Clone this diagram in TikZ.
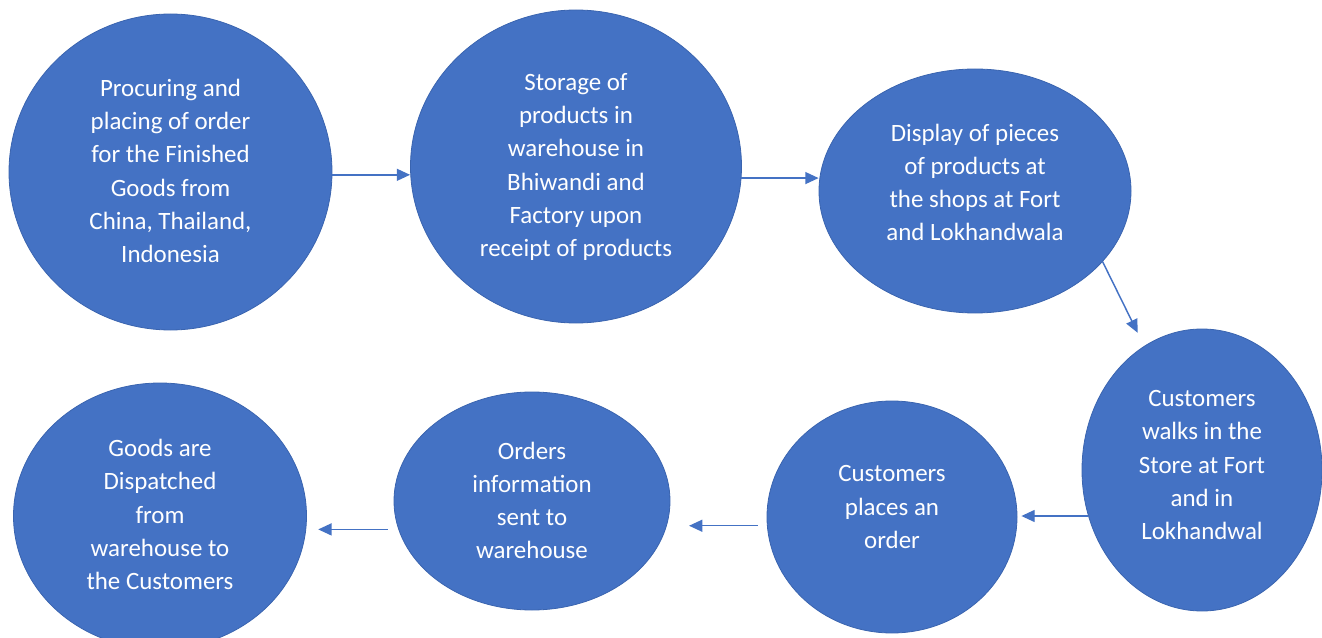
\documentclass[tikz,border=0pt]{standalone}
\usepackage{fontspec}
\setmainfont{Carlito}
\usetikzlibrary{arrows.meta, positioning, shapes.geometric}
\definecolor{stageblue}{HTML}{4472C4}
\definecolor{stageedge}{HTML}{3A64AF}

\begin{document}
\begin{tikzpicture}[
	x=0.75pt, y=-0.75pt,
	stage/.style={ellipse, draw=stageedge, line width=0.6pt, fill=stageblue, inner sep=0pt},
	stagetext/.style={text=white, align=center, inner sep=0pt, font=\fontsize{18.7}{24.9}\selectfont},
	arrow/.style={-{Triangle[length=10pt, width=9pt]}, stageblue, line width=1.1pt}
	]
	
	\useasboundingbox (0,0) rectangle (1322,638);
	
	% === STAGES OF THE FLOW ===
	\foreach \name/\x/\y/\w/\h/\ty/\txt in {
		procure/170.5/172/323/316/171/{Procuring and\\placing of order\\for the Finished\\Goods from\\China, Thailand,\\Indonesia},
		storage/576/166.5/331/313/167/{Storage of\\products in\\warehouse in\\Bhiwandi and\\Factory upon\\receipt of products},
		display/975/191/312/244/182.5/{Display of pieces\\of products at\\the shops at Fort\\and Lokhandwala},
		walkin/1202/470/240/282/465/{Customers\\walks in the\\Store at Fort\\and in\\Lokhandwal},
		order/892/517/250/232/507/{Customers\\places an\\order},
		orders/532/501/276/218/500.5/{Orders\\information\\sent to\\warehouse},
		dispatch/160/516/293/266/514.5/{Goods are\\Dispatched\\from\\warehouse to\\the Customers}} {
		\node[stage, minimum width=\w*0.75pt, minimum height=\h*0.75pt] (\name) at (\x, \y) {};
		\node[stagetext] (\name-text) at (\x, \ty) {\txt};
	}
	
	% === FLOW ARROWS ===
	\draw[arrow] (procure.-1) -- (procure.-1 -| storage.west);
	\draw[arrow] (storage.-4) -- (storage.-4 -| display.west);
	\draw[arrow, shorten >=11pt] (display.-29) -- (walkin.115);
	\draw[arrow, shorten >=3pt] (walkin.202) -- (walkin.202 -| order.east);
	\draw[arrow, shorten <=7pt, shorten >=14pt] (order.184) -- (order.184 -| orders.east);
	\draw[arrow, shorten <=8pt, shorten >=8.5pt] (orders.192) -- (orders.192 -| dispatch.east);
	
\end{tikzpicture}
\end{document}
